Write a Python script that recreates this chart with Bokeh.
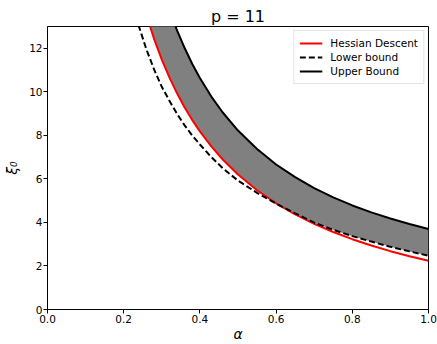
import numpy as np
from bokeh.plotting import figure
from bokeh.models import (Range1d, FixedTicker, PrintfTickFormatter, Legend,
                          LegendItem)
from bokeh.embed import file_html
from bokeh.resources import INLINE

# ---- data ----
alpha = [0.22, 0.24, 0.26, 0.28, 0.30, 0.32, 0.34, 0.36, 0.38, 0.40, 0.43,
         0.46, 0.50, 0.55, 0.60, 0.65, 0.70, 0.75, 0.80, 0.85, 0.90, 0.95, 1.00]
hessian = [16.28, 14.78, 13.51, 12.42, 11.48, 10.66, 9.93, 9.28, 8.70, 8.18,
           7.49, 6.89, 6.20, 5.48, 4.88, 4.37, 3.94, 3.56, 3.23, 2.94, 2.68,
           2.45, 2.24]
lower = [14.26, 13.00, 11.93, 11.02, 10.23, 9.59, 8.99, 8.46, 7.99, 7.58,
         7.00, 6.49, 5.92, 5.36, 4.86, 4.42, 3.99, 3.66, 3.37, 3.12, 2.88,
         2.67, 2.47]
upper = [21.2, 19.2, 17.5, 16.0, 14.81, 13.75, 12.82, 12.01, 11.28, 10.63,
         9.78, 9.05, 8.22, 7.37, 6.66, 6.08, 5.58, 5.15, 4.78, 4.46, 4.18,
         3.93, 3.70]
x_ticks = [0.0, 0.2, 0.4, 0.6, 0.8, 1.0]
y_ticks = [0, 2, 4, 6, 8, 10, 12]
series_names = ["Hessian Descent", "Lower bound", "Upper Bound"]

FONT = "DejaVu Sans"

p = figure(width=437, height=344, output_backend="svg", toolbar_location=None,
           x_range=Range1d(0, 1), y_range=Range1d(0, 13),
           min_border_left=47, min_border_right=9, min_border_top=26,
           min_border_bottom=34, title="p = 11")
p.title.align = "center"
p.title.text_font = FONT
p.title.text_font_size = "16px"
p.title.text_font_style = "normal"
p.title.text_color = "black"
p.title.standoff = 2
p.title.offset = 2

band_low = np.maximum(np.array(hessian), np.array(lower))
p.varea(x=alpha, y1=band_low, y2=upper, fill_color="#808080", fill_alpha=1.0)

r_h = p.line(alpha, hessian, line_color="#ff0000", line_width=2)
r_l = p.line(alpha, lower, line_color="black", line_width=2, line_dash="6 3")
r_u = p.line(alpha, upper, line_color="black", line_width=2)

legend = Legend(items=[LegendItem(label=series_names[0], renderers=[r_h]),
                       LegendItem(label=series_names[1], renderers=[r_l]),
                       LegendItem(label=series_names[2], renderers=[r_u])],
                location="top_right")
legend.label_text_font = FONT
legend.label_text_font_size = "10.5px"
legend.label_text_color = "black"
legend.glyph_width = 23
legend.glyph_height = 14
legend.label_height = 14
legend.label_standoff = 8
legend.padding = 5
legend.spacing = 0
legend.margin = 4
legend.border_line_color = "#cccccc"
legend.border_line_width = 1
legend.background_fill_alpha = 0.8
p.add_layout(legend)

# axes
p.xaxis.ticker = FixedTicker(ticks=x_ticks)
p.xaxis.formatter = PrintfTickFormatter(format="%.1f")
p.yaxis.ticker = FixedTicker(ticks=y_ticks)
p.yaxis.formatter = PrintfTickFormatter(format="%d")
for ax in (p.xaxis, p.yaxis):
    ax.major_label_text_font = FONT
    ax.major_label_text_font_size = "10.5px"
    ax.major_label_text_color = "black"
    ax.major_tick_out = 4
    ax.major_tick_in = 0
    ax.minor_tick_line_color = None
    ax.axis_line_color = "black"
    ax.major_tick_line_color = "black"
    ax.major_label_standoff = 1
    ax.axis_label_text_font = FONT
    ax.axis_label_text_font_size = "14px"
    ax.axis_label_text_font_style = "italic"
    ax.axis_label_text_color = "black"
p.xaxis.axis_label = "α"
p.yaxis.axis_label = "ξ₀"
p.xaxis.axis_label_standoff = 0
p.yaxis.axis_label_standoff = 6

p.grid.visible = False
p.outline_line_color = "black"
p.outline_line_alpha = 1.0
p.outline_line_width = 1

open("out.html", "w").write(file_html(p, INLINE))
